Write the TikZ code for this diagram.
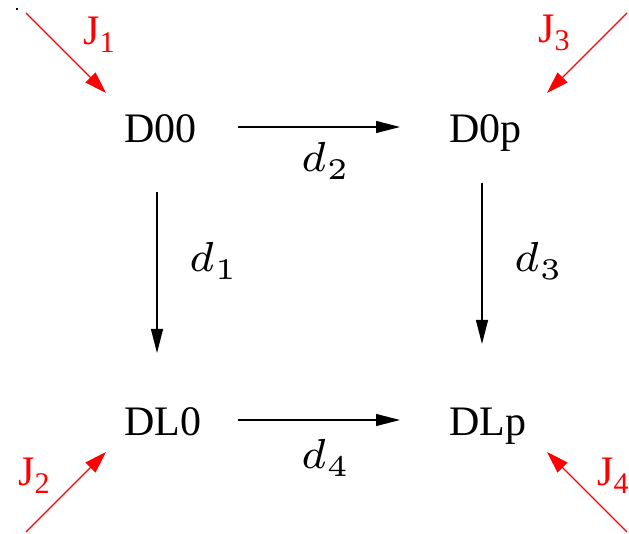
\RequirePackage{fix-cm}
\documentclass[tikz,border=0pt]{standalone}
\usepackage{fontspec}
\setmainfont{Liberation Serif}
\usetikzlibrary{arrows.meta}
\font\dfont=cmmi7 at 42pt
\font\sfont=cmr5 at 30pt
\newcommand\dsub[1]{{\dfont d}\kern1pt\raisebox{-8pt}{\sfont #1}}
\newcommand\Jsub[1]{J\raisebox{-8pt}{\fontsize{30}{30}\selectfont #1}}
\begin{document}
\begin{tikzpicture}[x=1pt,y=-1pt,
  lbl/.style={inner sep=0pt,anchor=base west,font=\fontsize{42}{50}\selectfont},
  jlbl/.style={lbl,text=red},
  blk/.style={line width=1.1pt,-{Triangle[length=24pt,width=12pt]}},
  redarr/.style={line width=1.1pt,red,-{Triangle[length=22pt,width=14pt]}}]
\useasboundingbox (0,0) rectangle (629,534);
\fill (16,8) rectangle (18,10);
% main nodes
\node[lbl] (D00) at (124,143) {D00};
\node[lbl] (D0p) at (449,143) {D0p};
\node[lbl] (DL0) at (124,435) {DL0};
\node[lbl] (DLp) at (449,435) {DLp};
% black connectors
\draw[blk] ([shift={(114,-16)}]D00.base west) -- ([shift={(-49,-16)}]D0p.base west);
\draw[blk] ([shift={(33,49)}]D00.base west) -- ([shift={(33,-82)}]DL0.base west);
\draw[blk] ([shift={(33,40)}]D0p.base west) -- ([shift={(33,-91)}]DLp.base west);
\draw[blk] ([shift={(114,-15)}]DL0.base west) -- ([shift={(-49,-15)}]DLp.base west);
% labels of connectors
\node[lbl] (l2) at (301,172) {\dsub{2}};
\node[lbl] (l1) at (189,272) {\dsub{1}};
\node[lbl] (l3) at (514,272) {\dsub{3}};
\node[lbl] (l4) at (301,468) {\dsub{4}};
% red inputs
\coordinate (j1s) at (26,13);
\coordinate (j3s) at (627,13);
\coordinate (j2s) at (26,532);
\coordinate (j4s) at (627,532);
\draw[redarr] (j1s) -- ([shift={(-18,-50)}]D00.base west);
\draw[redarr] (j3s) -- ([shift={(98,-50)}]D0p.base west);
\draw[redarr] (j2s) -- ([shift={(-18,17)}]DL0.base west);
\draw[redarr] (j4s) -- ([shift={(98,17)}]DLp.base west);
\node[jlbl] (J1) at (83,45) {\Jsub{1}};
\node[jlbl] (J3) at (538,43) {\Jsub{3}};
\node[jlbl] (J2) at (18,485) {\Jsub{2}};
\node[jlbl] (J4) at (597,485) {\Jsub{4}};
\end{tikzpicture}
\end{document}
